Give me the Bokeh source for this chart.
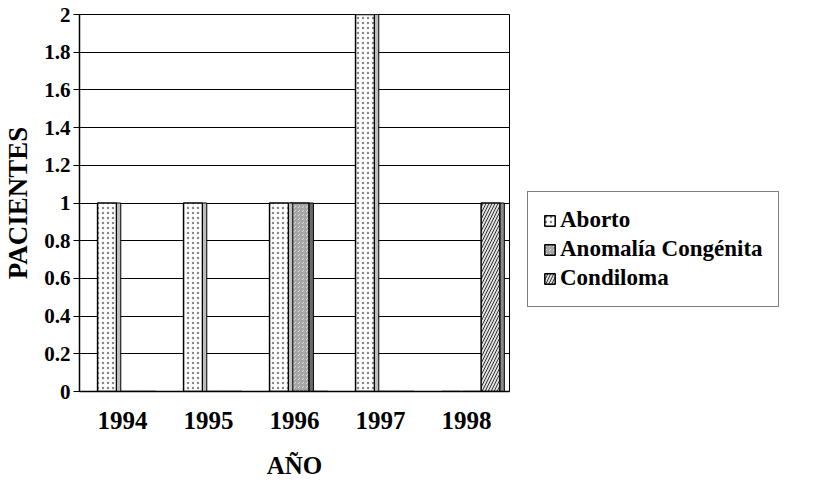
from bokeh.plotting import figure
from bokeh.models import ColumnDataSource, FactorRange, Range1d, FixedTicker, CustomJSTickFormatter, Legend, LegendItem
from bokeh.transform import dodge
from bokeh.embed import file_html
from bokeh.resources import INLINE

years = ["1994", "1995", "1996", "1997", "1998"]
aborto = [1, 1, 1, 2, 0]
anomalia = [0, 0, 1, 0, 0]
condiloma = [0, 0, 0, 0, 1]
series_names = ["Aborto", "Anomalía Congénita", "Condiloma"]
y_ticks = [0, 0.2, 0.4, 0.6, 0.8, 1, 1.2, 1.4, 1.6, 1.8, 2]

src = ColumnDataSource(dict(years=years, aborto=aborto, anomalia=anomalia, condiloma=condiloma))

FONT = "Liberation Serif"

p = figure(frame_width=430, frame_height=377, x_range=FactorRange(*years), y_range=Range1d(0, 2),
           output_backend="svg", toolbar_location=None,
           min_border_left=77, min_border_right=0, min_border_top=14, min_border_bottom=76)

p.background_fill_color = "white"
p.border_fill_color = "white"
p.outline_line_color = "black"
p.outline_line_width = 1

p.xgrid.grid_line_color = None
p.ygrid.grid_line_color = "black"
p.ygrid.grid_line_width = 1
p.ygrid.ticker = FixedTicker(ticks=y_ticks)

w = 0.22
side = 0.05
offs = [-0.18, 0.06, 0.28]
fields = ["aborto", "anomalia", "condiloma"]
side_colors = ["#bdbdbd", "#6a6a6a", "#8a8a8a"]

r1 = p.vbar(x=dodge("years", offs[0], range=p.x_range), top="aborto", width=w, source=src,
            fill_color="white", line_color="black", line_width=1.5,
            hatch_pattern=".", hatch_color="#888888", hatch_scale=5, hatch_weight=1.5)
r2 = p.vbar(x=dodge("years", offs[1], range=p.x_range), top="anomalia", width=w, source=src,
            fill_color="#a6a6a6", line_color="black", line_width=1.5,
            hatch_pattern=",", hatch_color="#dddddd", hatch_scale=4, hatch_weight=1)
r3 = p.vbar(x=dodge("years", offs[2], range=p.x_range), top="condiloma", width=w, source=src,
            fill_color="#e0e0e0", line_color="black", line_width=1.5,
            hatch_pattern="/", hatch_color="#333333", hatch_scale=6, hatch_weight=1)
for f, o, c in zip(fields, offs, side_colors):
    p.vbar(x=dodge("years", o + w / 2 + side / 2, range=p.x_range), top=f, width=side, source=src,
           fill_color=c, line_color="black", line_width=1)

p.yaxis.ticker = FixedTicker(ticks=y_ticks)
p.yaxis.formatter = CustomJSTickFormatter(code="return String(Math.round(tick*10)/10);")
p.yaxis.axis_label = "PACIENTES"
p.xaxis.axis_label = "AÑO"
for ax in (p.xaxis[0], p.yaxis[0]):
    ax.axis_line_color = "black"
    ax.axis_line_width = 1.5
    ax.major_label_text_font = FONT
    ax.major_label_text_font_style = "bold"
    ax.major_label_text_color = "black"
    ax.axis_label_text_font = FONT
    ax.axis_label_text_font_style = "bold"
    ax.axis_label_text_color = "black"
    ax.minor_tick_line_color = None
p.yaxis.axis_label_text_font_size = "27px"
p.xaxis.axis_label_text_font_size = "25px"
p.yaxis.major_label_text_font_size = "21px"
p.xaxis.major_label_text_font_size = "25px"
p.yaxis.major_tick_line_color = "black"
p.yaxis.major_tick_out = 6
p.yaxis.major_tick_in = 0
p.yaxis.major_label_standoff = 3
p.yaxis.axis_label_standoff = 8
p.xaxis.major_tick_line_color = None
p.xaxis.major_label_standoff = 14
p.xaxis.axis_label_standoff = 20

legend = Legend(items=[LegendItem(label=series_names[0], renderers=[r1]),
                       LegendItem(label=series_names[1], renderers=[r2]),
                       LegendItem(label=series_names[2], renderers=[r3])],
                location=(18, 84))
legend.label_text_font = FONT
legend.label_text_font_style = "bold"
legend.label_text_font_size = "23px"
legend.label_text_color = "black"
legend.glyph_width = 13
legend.glyph_height = 13
legend.label_standoff = 4
legend.spacing = 3
legend.padding = 15
legend.margin = 0
legend.label_height = 24
legend.border_line_color = "black"
legend.border_line_width = 1
legend.background_fill_alpha = 1
p.add_layout(legend, "right")

open("out.html", "w").write(file_html(p, INLINE))
